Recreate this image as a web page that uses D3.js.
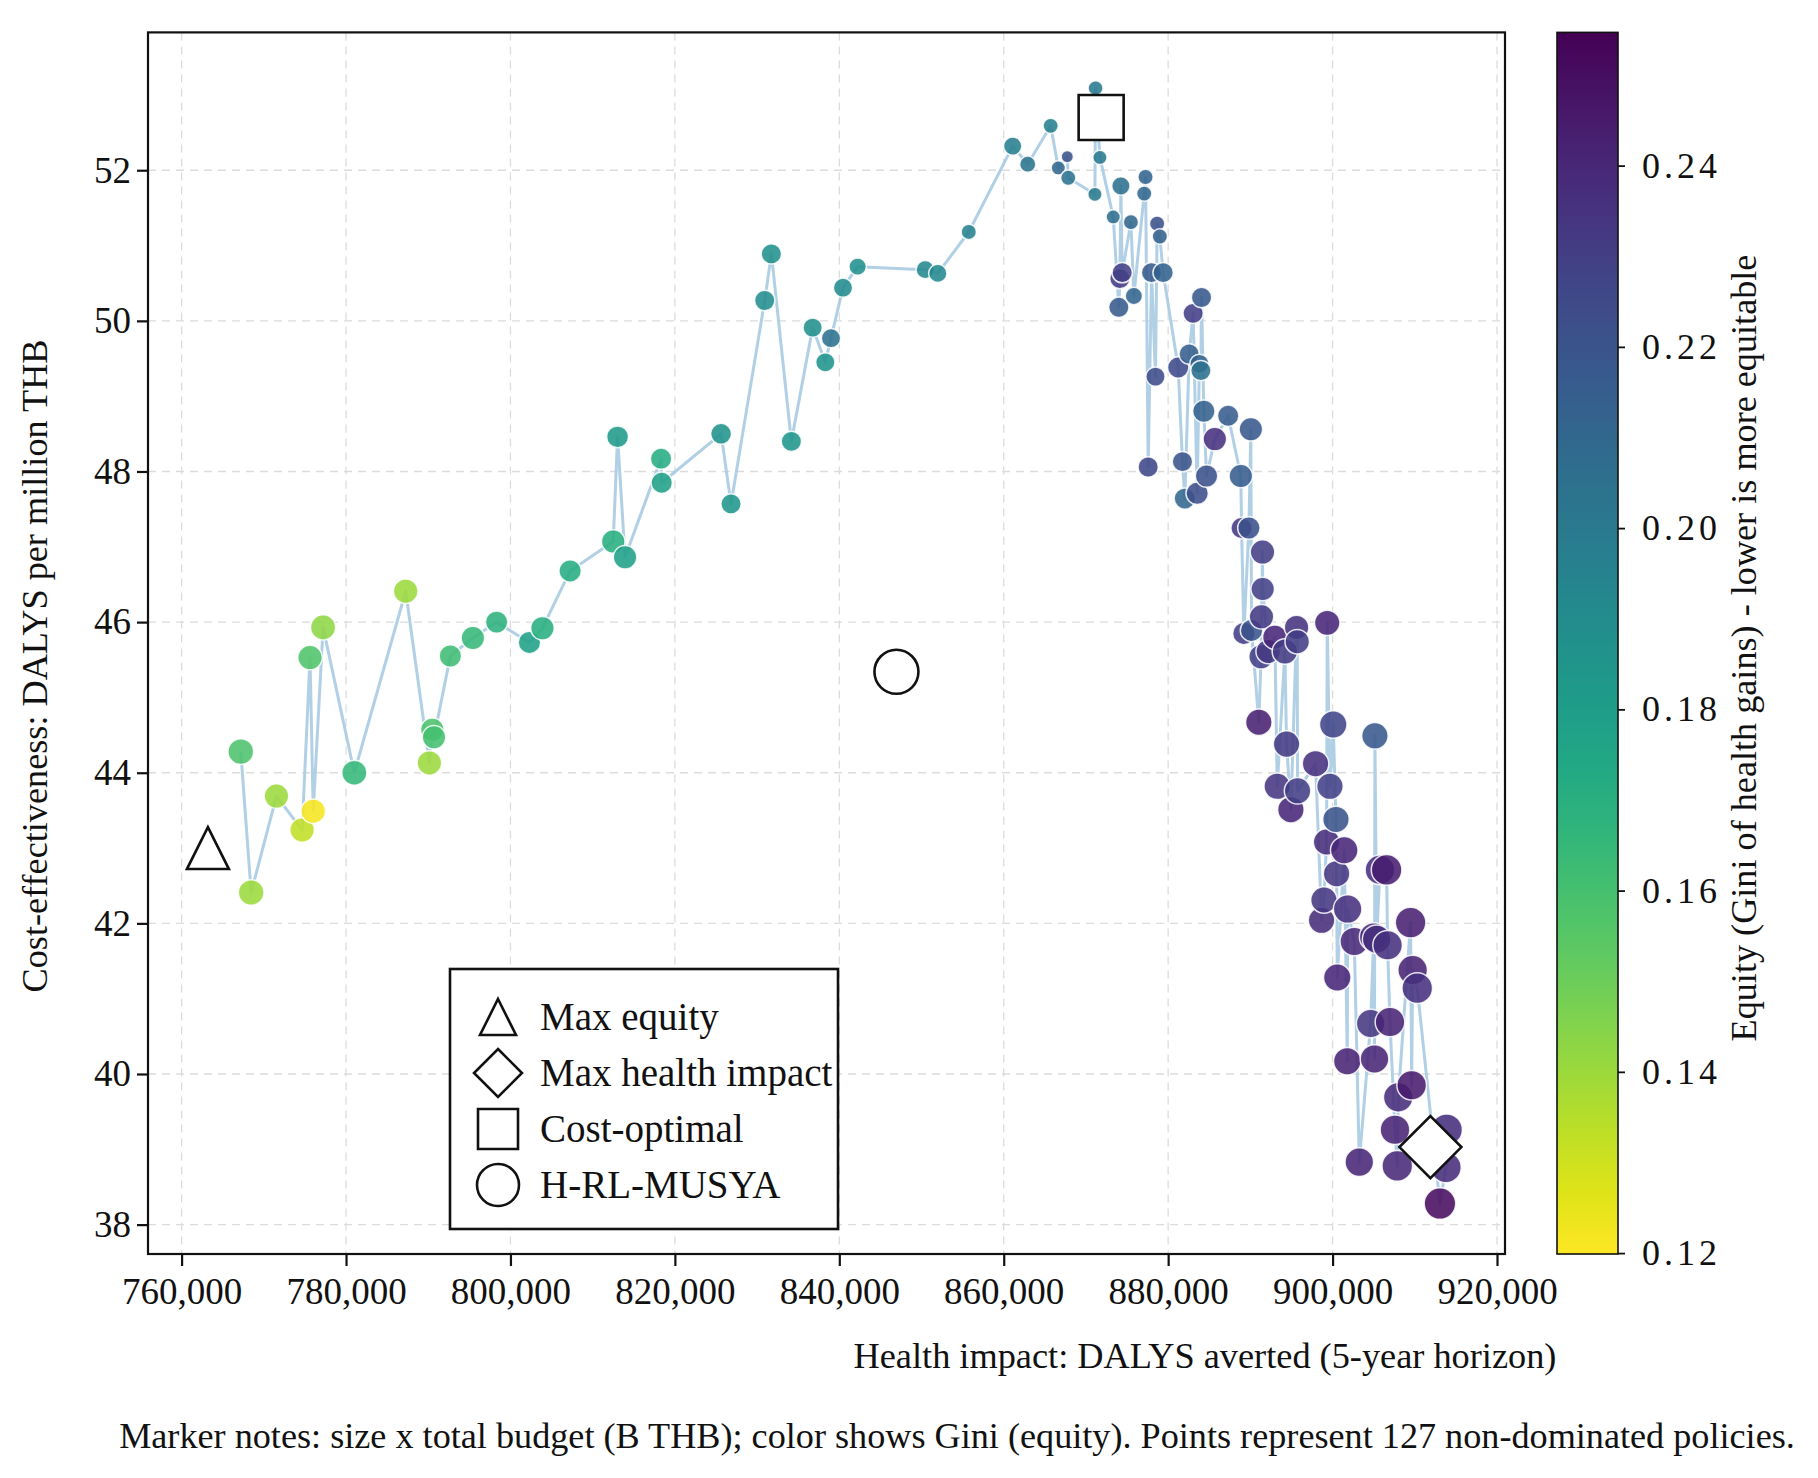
<!DOCTYPE html>
<html>
<head>
<meta charset="utf-8">
<script src="https://cdn.jsdelivr.net/npm/d3@7/dist/d3.min.js"></script>
<style>
  body { margin: 0; background: #fff; }
  text { font-family: "Liberation Serif", "Times New Roman", serif; fill: #111; }
</style>
</head>
<body>
<svg id="chart" width="1818" height="1478"></svg>
<script>
// ---- data (sorted by DALYs averted) ----
const dalys = [
  767200, 768460, 771540, 774660, 775620, 776010, 777210, 781010, 787260, 790140,
  790500, 790700, 792690, 795430, 798320, 802310, 803890, 807260, 812500, 813030,
  813940, 818320, 818400, 825620, 826830, 830930, 831740, 834170, 836760, 838300,
  838990, 840450, 842230, 850450, 851980, 855750, 861090, 862920, 865710, 866640,
  867730, 867850, 871090, 871170, 871700, 873320, 874000, 874130, 874250, 874410,
  875470, 875830, 877090, 877250, 877570, 877980, 878460, 878660, 878990, 879390,
  881220, 881740, 882030, 882560, 883040, 883530, 883800, 883980, 884060, 884340,
  884670, 885680, 887300, 888840, 888930, 889210, 889820, 890060, 890140, 891030,
  891300, 891360, 891480, 891500, 892170, 892980, 893270, 894200, 894400, 894930,
  895620, 895700, 895740, 897930, 898660, 898950, 899270, 899350, 899680, 900080,
  900410, 900490, 900570, 901420, 901790, 901830, 902640, 903250, 904630, 905000,
  905100, 905150, 905360, 905760, 906570, 906690, 906980, 907590, 907870, 907990,
  909490, 909620, 909740, 910300, 913060, 913790, 913870
];
const costEff = [
  44.28, 42.41, 43.69, 43.24, 45.53, 43.49, 45.93, 44.00, 46.41, 44.13,
  44.57, 44.47, 45.55, 45.79, 46.00, 45.73, 45.92, 46.68, 47.07, 48.46,
  46.86, 48.17, 47.85, 48.50, 47.57, 50.27, 50.89, 48.40, 49.91, 49.45,
  49.77, 50.44, 50.72, 50.68, 50.63, 51.18, 52.32, 52.08, 52.59, 52.03,
  52.18, 51.90, 51.68, 53.09, 52.17, 51.38, 50.18, 50.56, 51.79, 50.64,
  51.31, 50.33, 51.69, 51.91, 48.06, 50.64, 49.26, 51.29, 51.12, 50.64,
  49.38, 48.13, 47.64, 49.56, 50.10, 47.71, 49.43, 49.34, 50.31, 48.80,
  47.94, 48.43, 48.74, 47.94, 47.25, 45.85, 47.25, 48.56, 45.89, 44.67,
  45.54, 46.07, 46.93, 46.44, 45.61, 45.80, 43.82, 45.61, 44.38, 43.51,
  45.93, 45.74, 43.76, 44.12, 42.04, 42.31, 43.08, 45.99, 43.82, 44.64,
  43.38, 42.66, 41.28, 42.97, 40.17, 42.19, 41.76, 38.83, 40.67, 41.82,
  40.20, 44.49, 41.79, 42.71, 42.71, 41.71, 40.69, 39.26, 38.78, 39.69,
  42.01, 39.85, 41.38, 41.14, 38.28, 38.76, 39.26
];
const gini = [
  0.158, 0.140, 0.140, 0.133, 0.157, 0.122, 0.143, 0.165, 0.140, 0.140,
  0.158, 0.160, 0.162, 0.165, 0.168, 0.178, 0.170, 0.172, 0.170, 0.182,
  0.178, 0.172, 0.178, 0.186, 0.184, 0.189, 0.187, 0.184, 0.188, 0.185,
  0.205, 0.190, 0.188, 0.191, 0.191, 0.195, 0.197, 0.203, 0.197, 0.210,
  0.220, 0.204, 0.200, 0.200, 0.200, 0.207, 0.217, 0.232, 0.205, 0.229,
  0.210, 0.212, 0.210, 0.212, 0.226, 0.217, 0.224, 0.221, 0.213, 0.213,
  0.225, 0.220, 0.210, 0.215, 0.230, 0.223, 0.213, 0.205, 0.218, 0.214,
  0.221, 0.236, 0.216, 0.216, 0.233, 0.231, 0.221, 0.218, 0.220, 0.243,
  0.229, 0.232, 0.231, 0.229, 0.232, 0.240, 0.234, 0.232, 0.232, 0.240,
  0.235, 0.230, 0.230, 0.236, 0.238, 0.233, 0.238, 0.240, 0.229, 0.227,
  0.220, 0.233, 0.240, 0.240, 0.242, 0.236, 0.239, 0.240, 0.233, 0.238,
  0.241, 0.218, 0.237, 0.236, 0.244, 0.236, 0.242, 0.242, 0.239, 0.238,
  0.243, 0.245, 0.242, 0.236, 0.250, 0.238, 0.237
];
// total budget, billion THB
const budget = [
  11.0, 11.0, 10.0, 10.0, 10.0, 10.0, 10.5, 10.5, 10.0, 10.0,
  9.2, 9.2, 8.4, 9.2, 8.4, 8.4, 9.2, 8.4, 9.2, 8.0,
  9.2, 7.6, 7.6, 7.3, 6.9, 6.9, 6.9, 6.9, 6.2, 6.2,
  6.2, 6.2, 5.0, 5.6, 5.6, 3.9, 5.6, 4.4, 3.9, 3.4,
  2.5, 3.9, 3.4, 3.7, 3.4, 3.4, 6.9, 6.9, 5.6, 6.9,
  3.9, 5.0, 3.9, 3.9, 6.9, 6.9, 6.2, 3.9, 3.9, 6.9,
  7.6, 6.9, 7.6, 6.9, 6.9, 8.4, 6.2, 6.9, 6.9, 8.4,
  8.4, 9.2, 7.6, 9.2, 7.6, 8.4, 8.4, 9.2, 8.4, 11.7,
  10.0, 10.0, 10.0, 9.2, 10.0, 10.0, 11.7, 10.8, 11.7, 11.7,
  10.0, 10.0, 11.7, 11.7, 11.7, 11.7, 11.7, 10.8, 11.7, 12.6,
  11.7, 11.7, 12.6, 12.6, 12.6, 13.6, 13.6, 13.6, 13.6, 13.6,
  13.6, 11.7, 13.6, 14.6, 15.6, 14.6, 14.6, 14.6, 15.6, 14.6,
  15.6, 14.6, 14.6, 15.6, 16.6, 15.6, 16.6
];

const xTicks = [760000, 780000, 800000, 820000, 840000, 860000, 880000, 900000, 920000];
const yTicks = [38, 40, 42, 44, 46, 48, 50, 52];
const giniTicks = [0.12, 0.14, 0.16, 0.18, 0.20, 0.22, 0.24];

const specialNames = ["Max equity", "Max health impact", "Cost-optimal", "H-RL-MUSYA"];
const specialShape = ["triangle", "diamond", "square", "circle"];
const specialX = [763200, 911900, 871850, 846950];
const specialY = [43.00, 39.03, 52.70, 45.34];

const xLabel = "Health impact: DALYS averted (5-year horizon)";
const yLabel = "Cost-effectiveness: DALYS per million THB";
const cLabel = "Equity (Gini of health gains) - lower is more equitable";
const caption = "Marker notes: size x total budget (B THB); color shows Gini (equity). Points represent 127 non-dominated policies.";

// ---- layout ----
const svg = d3.select("#chart");
const L = 148, R = 1505, T = 32.4, B = 1254;
const cbL = 1557, cbR = 1618;

const x = d3.scaleLinear().domain([755913, 920973]).range([L, R]);
const y = d3.scaleLinear().domain([37.61, 53.83]).range([B, T]);
const cDomain = [0.1199, 0.2547];
const cy = d3.scaleLinear().domain(cDomain).range([B, T]);
const color = g => d3.interpolateViridis(1 - (g - cDomain[0]) / (cDomain[1] - cDomain[0]));
const rScale = d3.scaleSqrt().domain([0, 16]).range([0, 15.5]);

const points = dalys.map((d, i) => ({x: d, y: costEff[i], g: gini[i], b: budget[i]}));
points.sort((a, b) => a.x - b.x);

svg.append("rect").attr("width", 1818).attr("height", 1478).attr("fill", "#fff");

// grid
const grid = svg.append("g");
grid.selectAll(".gx").data(xTicks).enter().append("line")
    .attr("x1", d => x(d)).attr("x2", d => x(d)).attr("y1", T).attr("y2", B)
    .attr("stroke", "#dcdcdc").attr("stroke-width", 1.3).attr("stroke-dasharray", "8,6");
grid.selectAll(".gy").data(yTicks).enter().append("line")
    .attr("x1", L).attr("x2", R).attr("y1", d => y(d)).attr("y2", d => y(d))
    .attr("stroke", "#dcdcdc").attr("stroke-width", 1.3).attr("stroke-dasharray", "8,6");

// connecting line
svg.append("path")
    .datum(points)
    .attr("fill", "none")
    .attr("stroke", "#a9cbe3")
    .attr("stroke-width", 3)
    .attr("stroke-opacity", 0.9)
    .attr("stroke-linejoin", "round")
    .attr("d", d3.line().x(d => x(d.x)).y(d => y(d.y)));

// policy points
svg.append("g").selectAll("circle")
    .data(points)
    .enter()
    .append("circle")
    .attr("cx", d => x(d.x))
    .attr("cy", d => y(d.y))
    .attr("r", d => rScale(d.b))
    .attr("fill", d => color(d.g))
    .attr("fill-opacity", 0.88)
    .attr("stroke", "#fff")
    .attr("stroke-opacity", 0.85)
    .attr("stroke-width", 1.5);

// marker shapes, s = half size
function shapePath(shape, s){
    if (shape == "triangle") return `M0,${-s}L${s},${s}L${-s},${s}Z`;
    if (shape == "diamond") return `M0,${-s}L${s},0L0,${s}L${-s},0Z`;
    if (shape == "square") return `M${-s},${-s}H${s}V${s}H${-s}Z`;
    return d3.arc()({innerRadius: 0, outerRadius: s, startAngle: 0, endAngle: 2 * Math.PI});
}
const bigSize = {triangle: 21, diamond: 31, square: 22.5, circle: 22};
const legSize = {triangle: 18, diamond: 24, square: 20, circle: 21};

svg.append("g").selectAll("path")
    .data(specialNames.map((n, i) => ({name: n, shape: specialShape[i], x: specialX[i], y: specialY[i]})))
    .enter()
    .append("path")
    .attr("transform", d => `translate(${x(d.x)},${y(d.y)})`)
    .attr("d", d => shapePath(d.shape, bigSize[d.shape]))
    .attr("fill", "#fff")
    .attr("stroke", "#111")
    .attr("stroke-width", 2.6);

// frame
svg.append("rect")
    .attr("x", L).attr("y", T).attr("width", R - L).attr("height", B - T)
    .attr("fill", "none").attr("stroke", "#111").attr("stroke-width", 2.2);

// axes
const xAxis = svg.append("g")
    .attr("transform", `translate(0,${B})`)
    .call(d3.axisBottom(x).tickValues(xTicks).tickFormat(d3.format(",")).tickSize(12).tickPadding(12));
const yAxis = svg.append("g")
    .attr("transform", `translate(${L},0)`)
    .call(d3.axisLeft(y).tickValues(yTicks).tickSize(11).tickPadding(6));
[xAxis, yAxis].forEach(a => {
    a.attr("font-family", null);
    a.select(".domain").remove();
    a.selectAll(".tick line").attr("stroke", "#111").attr("stroke-width", 2.2);
    a.selectAll(".tick text").attr("font-size", 37).style("fill", "#111");
});

// legend
const leg = svg.append("g");
leg.append("rect")
    .attr("x", 450).attr("y", 969).attr("width", 388).attr("height", 260)
    .attr("fill", "#fff").attr("stroke", "#111").attr("stroke-width", 2.6);
specialNames.forEach((n, i) => {
    const yy = 1017 + i * 56;
    leg.append("path")
        .attr("transform", `translate(498,${yy})`)
        .attr("d", shapePath(specialShape[i], legSize[specialShape[i]]))
        .attr("fill", "none").attr("stroke", "#111").attr("stroke-width", 2.6);
    leg.append("text")
        .attr("x", 540).attr("y", yy + 13)
        .attr("font-size", 39)
        .text(n);
});

// colorbar
const defs = svg.append("defs");
const grad = defs.append("linearGradient").attr("id", "cbar")
    .attr("x1", 0).attr("y1", 1).attr("x2", 0).attr("y2", 0);
d3.range(0, 1.0001, 0.05).forEach(t => {
    grad.append("stop").attr("offset", t)
        .attr("stop-color", color(cDomain[0] + t * (cDomain[1] - cDomain[0])));
});
svg.append("rect")
    .attr("x", cbL).attr("y", T).attr("width", cbR - cbL).attr("height", B - T)
    .attr("fill", "url(#cbar)").attr("stroke", "#111").attr("stroke-width", 1.6);
const cAxis = svg.append("g")
    .attr("transform", `translate(${cbR},0)`)
    .call(d3.axisRight(cy).tickValues(giniTicks).tickFormat(d3.format(".2f")).tickSize(7).tickPadding(17));
cAxis.attr("font-family", null);
cAxis.select(".domain").remove();
cAxis.selectAll(".tick line").attr("stroke", "#111").attr("stroke-width", 1.8);
cAxis.selectAll(".tick text").attr("font-size", 36)
    .attr("letter-spacing", 4).style("fill", "#111");

// fit long labels to the widths they take in the reference
function fitText(sel, width){
    const len = sel.node().getComputedTextLength();
    const fs = parseFloat(sel.attr("font-size"));
    sel.attr("font-size", fs * width / len);
}

const xl = svg.append("text")
    .attr("x", 1205).attr("y", 1368)
    .attr("text-anchor", "middle").attr("font-size", 36)
    .text(xLabel);
fitText(xl, 703);

const yl = svg.append("text")
    .attr("transform", "translate(47,666) rotate(-90)")
    .attr("text-anchor", "middle").attr("font-size", 36)
    .text(yLabel);
fitText(yl, 653);

const cl = svg.append("text")
    .attr("transform", "translate(1756,648) rotate(-90)")
    .attr("text-anchor", "middle").attr("font-size", 36)
    .text(cLabel);
fitText(cl, 787);

const cap = svg.append("text")
    .attr("x", 957).attr("y", 1448)
    .attr("text-anchor", "middle").attr("font-size", 36)
    .text(caption);
fitText(cap, 1676);
</script>
</body>
</html>
